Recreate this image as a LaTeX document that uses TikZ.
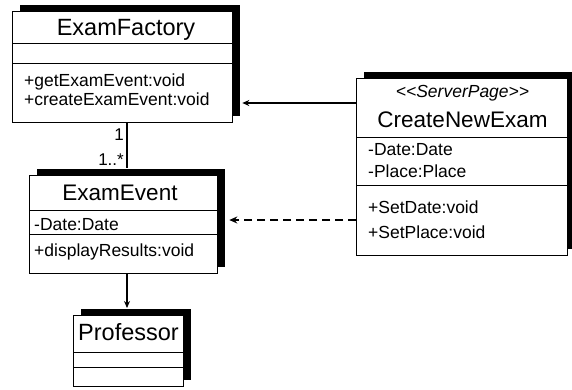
\documentclass[tikz,border=0pt]{standalone}
\usepackage{fontspec}
\setmainfont{Liberation Sans}
\usetikzlibrary{shadows,arrows.meta,calc}
\tikzset{
 classbox/.style={draw=black, line width=1.3pt, fill=white, inner sep=0pt, anchor=north west,
   general shadow={fill=black, shadow xshift=7pt, shadow yshift=6.5pt}},
 member/.style={anchor=base west, inner sep=0pt, font=\fontsize{17.5}{20}\selectfont},
 cname/.style={anchor=base, inner sep=0pt},
 mult/.style={anchor=base east, inner sep=0pt, font=\fontsize{17}{20}\selectfont},
 sep/.style={line width=1pt},
 assoc/.style={line width=1.4pt},
 nav/.style={line width=1.4pt, -{Stealth[length=7pt,width=6pt]}},
 dep/.style={line width=2.2pt, dash pattern=on 8pt off 5pt, -{Stealth[length=8pt,width=7pt]}},
}
\begin{document}
\begin{tikzpicture}[x=1pt,y=-1pt]
\useasboundingbox (0,0) rectangle (572,389);
% boxes
\node[classbox, minimum width=220pt, minimum height=111pt] (ef) at (12,11) {};
\node[classbox, minimum width=188pt, minimum height=98pt] (ee) at (29,175) {};
\node[classbox, minimum width=110pt, minimum height=71pt] (prof) at (73,315) {};
\node[classbox, minimum width=211pt, minimum height=177pt] (cne) at (356,78) {};
% separators
\draw[sep] (ef.west |- 0,43) -- (ef.east |- 0,43);
\draw[sep] (ef.west |- 0,63) -- (ef.east |- 0,63);
\draw[sep] (ee.west |- 0,210) -- (ee.east |- 0,210);
\draw[sep] (ee.west |- 0,234) -- (ee.east |- 0,234);
\draw[sep] (prof.west |- 0,352) -- (prof.east |- 0,352);
\draw[sep] (prof.west |- 0,367) -- (prof.east |- 0,367);
\draw[sep] (cne.west |- 0,137) -- (cne.east |- 0,137);
\draw[sep] (cne.west |- 0,185) -- (cne.east |- 0,185);
% texts
\node[cname, font=\fontsize{23.5}{28}\selectfont] (eft) at (126,35) {ExamFactory};
\node[member] (efm1) at (24,86) {+getExamEvent:void};
\node[member] (efm2) at (24,105) {+createExamEvent:void};
\node[cname, font=\fontsize{22.5}{26}\selectfont] (eet) at (120,200) {ExamEvent};
\node[member] (eea1) at (34,230) {-Date:Date};
\node[member] (eem1) at (34,256) {+displayResults:void};
\node[cname, font=\fontsize{23.5}{28}\selectfont] (proft) at (128.5,340) {Professor};
\node[cname, font=\itshape\fontsize{17.5}{21}\selectfont] (cnes) at (462.5,97) {<{}<ServerPage>{}>};
\node[cname, font=\fontsize{22.5}{26}\selectfont] (cnet) at (462.5,127) {CreateNewExam};
\node[member] (cnea1) at (368,155) {-Date:Date};
\node[member] (cnea2) at (368,177) {-Place:Place};
\node[member] (cnem1) at (368,213) {+SetDate:void};
\node[member] (cnem2) at (368,238) {+SetPlace:void};
% multiplicities
\node[mult] (m1) at (124,140) {1};
\node[mult] (m2) at (124,165) {1..*};
% connectors
\draw[assoc] ($(ef.south west)+(115,0)$) -- ($(ee.north west)+(98,-7)$);
\draw[nav] ($(ee.south west)+(98,0)$) -- ($(prof.north west)+(54,-7)$);
\coordinate (s1) at ($(cne.north west)+(0,25)$);
\draw[nav] (s1) -- ($(ef.east |- s1)+(9,0)$);
\coordinate (d1) at ($(cne.north west)+(0,142)$);
\draw[dep] (d1) -- ($(ee.east |- d1)+(11,0)$);
\end{tikzpicture}
\end{document}
